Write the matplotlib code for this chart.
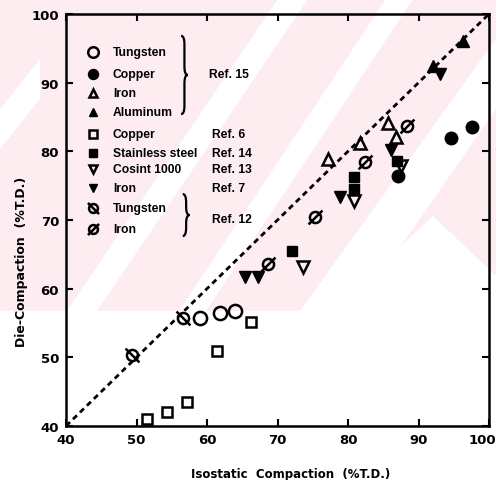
import numpy as np
import matplotlib
matplotlib.use("Agg")
import matplotlib.pyplot as plt
import matplotlib.transforms as mtrans
from matplotlib.path import Path
from matplotlib.patches import PathPatch, Polygon, Rectangle

# ---------------- data ----------------
tungsten15_x = [59.0, 61.8, 64.0]
tungsten15_y = [55.8, 56.5, 56.8]
copper15_x = [87.1, 94.6, 97.6]
copper15_y = [76.4, 81.9, 83.5]
iron15_x = [77.2, 81.7, 85.7, 86.8]
iron15_y = [78.9, 81.2, 84.1, 82.1]
aluminum15_x = [92.1, 96.3]
aluminum15_y = [92.4, 96.0]
copper6_x = [51.5, 54.3, 57.2, 61.4, 66.2]
copper6_y = [41.0, 42.0, 43.5, 50.9, 55.1]
stainless14_x = [72.1, 80.9, 80.9, 86.9]
stainless14_y = [65.5, 76.2, 74.5, 78.6]
cosint13_x = [73.6, 80.9, 87.5]
cosint13_y = [63.1, 72.8, 77.9]
iron7_x = [65.4, 67.2, 78.8, 86.1, 93.0]
iron7_y = [61.7, 61.7, 73.3, 80.2, 91.3]
tungsten12_x = [49.4, 56.6]
tungsten12_y = [50.4, 55.8]
iron12_x = [68.7, 75.3, 82.4, 88.4]
iron12_y = [63.6, 70.4, 78.4, 83.7]

legend_labels = ["Tungsten", "Copper", "Iron", "Aluminum", "Copper",
                 "Stainless steel", "Cosint 1000", "Iron", "Tungsten", "Iron"]
ref_labels = ["Ref. 15", "Ref. 6", "Ref. 14", "Ref. 13", "Ref. 7", "Ref. 12"]
x_ticks = [40, 50, 60, 70, 80, 90, 100]
y_ticks = [40, 50, 60, 70, 80, 90, 100]

# ---------------- markers ----------------
circ = Path.unit_circle()
back = Path([(-1.25, 1.25), (1.25, -1.25)], [Path.MOVETO, Path.LINETO])
fwd = Path([(-1.25, -1.25), (1.25, 1.25)], [Path.MOVETO, Path.LINETO])
m_back = Path.make_compound_path(circ, back)
m_fwd = Path.make_compound_path(circ, fwd)

K = "black"
styles = [
    dict(marker="o", ms=9.5, mfc="none", mec=K, mew=1.8),   # Tungsten 15
    dict(marker="o", ms=9, mfc=K, mec=K, mew=1.0),          # Copper 15
    dict(marker="^", ms=8, mfc="none", mec=K, mew=1.8),     # Iron 15
    dict(marker="^", ms=8, mfc=K, mec=K, mew=1.0),          # Aluminum 15
    dict(marker="s", ms=7.5, mfc="none", mec=K, mew=1.8),   # Copper 6
    dict(marker="s", ms=7.5, mfc=K, mec=K, mew=1.0),        # Stainless 14
    dict(marker="v", ms=8, mfc="none", mec=K, mew=1.8),     # Cosint 13
    dict(marker="v", ms=8, mfc=K, mec=K, mew=1.0),          # Iron 7
    dict(marker=m_back, ms=10, mfc="none", mec=K, mew=1.8), # Tungsten 12
    dict(marker=m_fwd, ms=10, mfc="none", mec=K, mew=1.8),  # Iron 12
]
series = [
    (tungsten15_x, tungsten15_y), (copper15_x, copper15_y),
    (iron15_x, iron15_y), (aluminum15_x, aluminum15_y),
    (copper6_x, copper6_y), (stainless14_x, stainless14_y),
    (cosint13_x, cosint13_y), (iron7_x, iron7_y),
    (tungsten12_x, tungsten12_y), (iron12_x, iron12_y),
]

# ---------------- figure ----------------
W, H = 496, 481
fig = plt.figure(figsize=(W / 100, H / 100), dpi=100)
fig.patch.set_facecolor("white")

# faint pink scan watermark (background)
def P(px, py):
    return (px / W, 1 - py / H)

pink = "#fdedf0"
fig.patches.append(Rectangle((0, 1 - 312 / H), 1, 312 / H, transform=fig.transFigure,
                             facecolor=pink, edgecolor="none", zorder=-3))
white_polys = [
    [(67, 312), (97, 312), (308, 0), (278, 0)],
    [(179, 312), (206, 312), (413, 0), (386, 0)],
    [(300, 312), (356, 312), (496, 110), (496, 40)],
    [(330, 313), (433, 217), (496, 277), (496, 313)],
    [(0, 110), (0, 150), (40, 100), (40, 60)],
]
for poly in white_polys:
    fig.patches.append(Polygon([P(*p) for p in poly], closed=True, transform=fig.transFigure,
                               facecolor="white", edgecolor="none", zorder=-2))

ax = fig.add_axes([66 / W, 1 - 427 / H, 423 / W, 412 / H])
ax.set_zorder(1)
ax.set_facecolor("none")

ax.plot([40, 100], [40, 100], color=K, lw=2.0, linestyle=(0, (2.0, 1.5)), zorder=2)

for (xs, ys), st in zip(series, styles):
    ax.plot(xs, ys, linestyle="none", zorder=3, **st)

ax.set_xlim(40, 100)
ax.set_ylim(40, 100)
ax.set_xticks(x_ticks)
ax.set_yticks(y_ticks)
ax.set_xticklabels([str(v) for v in x_ticks])
ax.set_yticklabels([str(v) for v in y_ticks])
ax.tick_params(direction="in", length=5, width=1.5, top=True, right=True,
               labelsize=9.5, pad=5)
for lab in ax.get_xticklabels() + ax.get_yticklabels():
    lab.set_fontweight("bold")
last = ax.get_xticklabels()[-1]
last.set_transform(last.get_transform() + mtrans.ScaledTranslation(-7 / 100, 0, fig.dpi_scale_trans))
for sp in ax.spines.values():
    sp.set_linewidth(1.8)

ax.set_xlabel("Isostatic  Compaction  (%T.D.)", fontsize=8.5, fontweight="bold")
ax.set_ylabel("Die-Compaction  (%T.D.)", fontsize=9, fontweight="bold")
ax.xaxis.set_label_coords(0.53, -0.10)
ax.yaxis.set_label_coords(-0.09, 0.40)

# ---------------- custom legend ----------------
tfam = ["Liberation Sans", "DejaVu Sans"]
rows_y = [0.908, 0.854, 0.808, 0.762, 0.709, 0.663, 0.624, 0.578, 0.529, 0.478]
for lab, st, yy in zip(legend_labels, styles, rows_y):
    st2 = dict(st)
    st2["ms"] = st["ms"] * 0.8
    ax.plot([0.064], [yy], transform=ax.transAxes, linestyle="none", clip_on=False, **st2)
    ax.text(0.111, yy, lab, transform=ax.transAxes, fontsize=8.7, fontweight="bold",
            family=tfam, va="center", ha="left")

ref_pos = [(0.338, 0.854), (0.345, 0.709), (0.345, 0.663), (0.345, 0.624),
           (0.345, 0.578), (0.345, 0.502)]
for lab, (xx, yy) in zip(ref_labels, ref_pos):
    ax.text(xx, yy, lab, transform=ax.transAxes, fontsize=8.7, fontweight="bold",
            family=tfam, va="center", ha="left")


def brace(x0, yt, yb, w, d):
    ym = (yt + yb) / 2
    xm = x0 + w / 2
    verts = [(x0, yt), (xm, yt), (xm, yt - d), (xm, ym + d), (xm, ym), (x0 + w, ym),
             (xm, ym), (xm, ym - d), (xm, yb + d), (xm, yb), (x0, yb)]
    codes = [Path.MOVETO, Path.CURVE3, Path.CURVE3, Path.LINETO, Path.CURVE3, Path.CURVE3,
             Path.CURVE3, Path.CURVE3, Path.LINETO, Path.CURVE3, Path.CURVE3]
    ax.add_patch(PathPatch(Path(verts, codes), transform=ax.transAxes, facecolor="none",
                           edgecolor=K, lw=1.6, clip_on=False))

brace(0.272, 0.947, 0.757, 0.016, 0.02)
brace(0.276, 0.563, 0.461, 0.016, 0.02)

fig.savefig("out.png", dpi=100)
